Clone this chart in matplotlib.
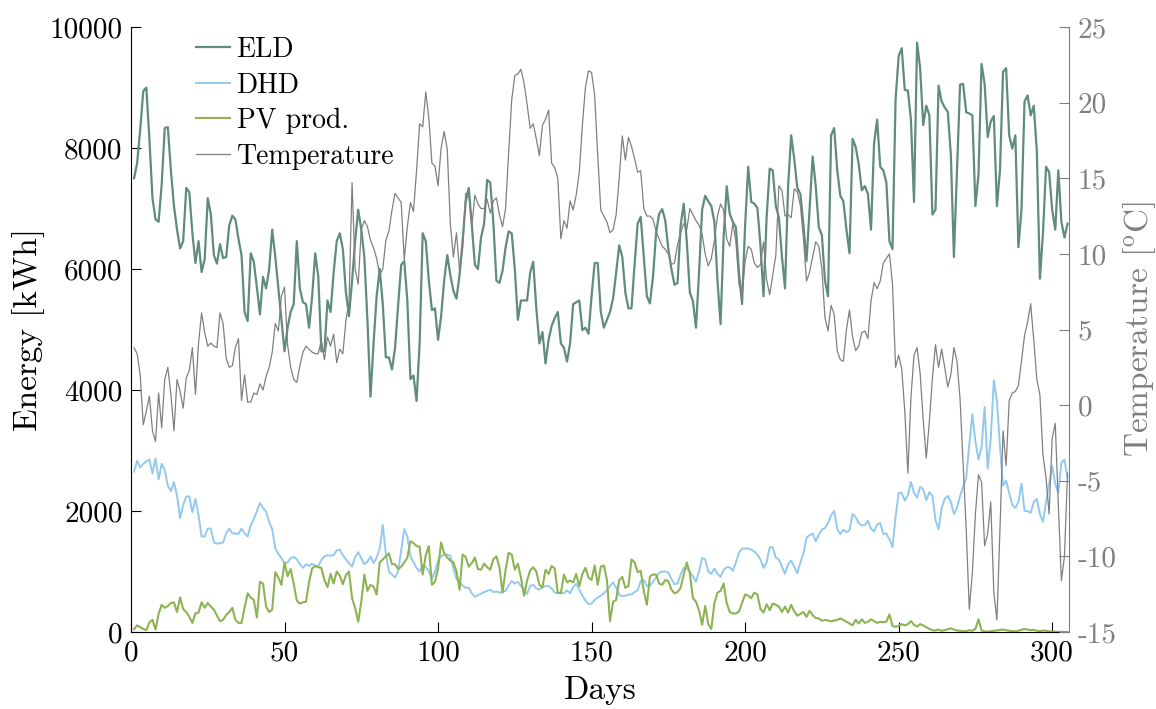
import numpy as np
import matplotlib
matplotlib.use("Agg")
import matplotlib.pyplot as plt

# Daily series, days 1..305
days = list(range(1, 306))

eld = [
    7500, 7750, 8300, 8940, 9000, 8150, 7170, 6820, 6780, 7400,
    8330, 8345, 7630, 7040, 6650, 6340, 6460, 7340, 7270, 6590,
    6100, 6460, 5950, 6160, 7170, 6910, 6230, 6090, 6410, 6180,
    6200, 6720, 6880, 6820, 6500, 6230, 5290, 5140, 6260, 6120,
    5700, 5250, 5870, 5680, 6000, 6650, 6200, 5680, 5160, 4640,
    5030, 5290, 5420, 6460, 5680, 5450, 5420, 5030, 5550, 6260,
    5870, 4640, 4640, 5480, 5290, 5940, 6460, 6590, 6330, 5610,
    5220, 5810, 6460, 6980, 6650, 6200, 5160, 3890, 4770, 5550,
    6000, 5420, 4540, 4540, 4340, 4700, 5400, 6070, 6130, 5480,
    4180, 4240, 3820, 4770, 6590, 6460, 5810, 5320, 5350, 4830,
    5220, 5810, 6230, 5900, 5640, 5510, 5900, 6460, 7110, 7340,
    6720, 6070, 6000, 6520, 6750, 7470, 7430, 6780, 5810, 5770,
    5970, 6360, 6620, 6590, 6000, 5160, 5480, 5480, 5480, 5940,
    6120, 5350, 4770, 4960, 4440, 4830, 5060, 5190, 5290, 4770,
    4700, 4470, 4770, 5420, 5450, 5480, 4990, 5030, 4930, 5550,
    6100, 6100, 5290, 5030, 5160, 5290, 5510, 5940, 6390, 6200,
    5610, 5350, 5350, 6070, 6750, 6860, 6200, 5550, 5430, 5870,
    6590, 6910, 6990, 6800, 6330, 6000, 5740, 5770, 6720, 7080,
    6460, 5610, 5470, 5030, 5940, 6980, 7210, 7120, 7040, 6780,
    5810, 5090, 6520, 7370, 6910, 6780, 6690, 5940, 5420, 6720,
    7690, 7110, 7080, 7010, 6390, 5550, 6850, 7660, 7630, 7040,
    6850, 6200, 5680, 7370, 8210, 7820, 7340, 7240, 6720, 6130,
    6980, 7860, 7370, 6690, 6560, 5810, 5550, 8210, 8330, 7630,
    7210, 7120, 6650, 6260, 8150, 8020, 7730, 7300, 7370, 7240,
    6650, 8080, 8470, 7690, 7630, 7430, 6460, 6330, 8800, 9520,
    9650, 8960, 8950, 8470, 7110, 9740, 9320, 8380, 8700, 8540,
    6900, 6980, 9030, 8770, 8670, 8600, 7890, 6200, 7630, 9050,
    9060, 8590, 8570, 8540, 7040, 7560, 9390, 9060, 8180, 8440,
    8530, 7040, 7630, 9260, 9320, 8210, 7990, 8210, 6360, 6980,
    8770, 8870, 8540, 8700, 7950, 5840, 6590, 7690, 7600, 6980,
    6650, 7630, 6780, 6520, 6750,
]

dhd = [
    2650, 2830, 2720, 2780, 2820, 2850, 2620, 2870, 2520, 2780,
    2680, 2420, 2330, 2480, 2250, 1880, 2100, 2240, 2240, 1980,
    2200, 1930, 1580, 1580, 1710, 1710, 1480, 1460, 1470, 1480,
    1630, 1710, 1630, 1630, 1620, 1710, 1630, 1580, 1760, 1870,
    2000, 2130, 2050, 1990, 1820, 1700, 1380, 1290, 1220, 1130,
    1150, 1220, 1240, 1200, 1120, 1060, 1120, 1090, 1130, 1090,
    1090, 1190, 1250, 1270, 1260, 1270, 1350, 1360, 1270, 1200,
    1140, 1080, 1240, 1320, 1220, 1120, 1160, 1250, 1140, 1230,
    1380, 1770, 1300, 1000, 950, 900, 1000, 1350, 1700, 1580,
    1250, 1150, 1060, 1000, 1100, 1080, 1000, 880, 1000, 1180,
    1250, 1280, 1280, 1260, 1050, 880, 820, 770, 730, 730,
    640, 580, 610, 630, 660, 680, 700, 660, 670, 650,
    670, 680, 770, 840, 800, 830, 760, 700, 630, 760,
    780, 720, 700, 740, 760, 760, 720, 650, 640, 650,
    640, 690, 640, 740, 800, 700, 600, 520, 460, 470,
    530, 570, 600, 640, 690, 760, 820, 730, 620, 590,
    600, 620, 620, 660, 690, 840, 860, 760, 760, 830,
    900, 980, 1000, 1000, 980, 880, 790, 800, 950, 1060,
    1050, 1000, 920, 830, 1000, 1220, 1200, 1000, 960, 1050,
    960, 910, 1030, 1070, 1070, 1010, 1150, 1310, 1380, 1380,
    1380, 1360, 1330, 1280, 1200, 1060, 1150, 1400, 1400, 1230,
    1200, 1080, 960, 1120, 1180, 1080, 970, 1150, 1300, 1560,
    1600, 1627, 1500, 1610, 1690, 1720, 1800, 1930, 2000, 1700,
    1620, 1690, 1650, 1680, 1950, 1900, 1800, 1760, 1770, 1840,
    1710, 1660, 1780, 1800, 1620, 1630, 1530, 1400, 1900, 2300,
    2300, 2170, 2260, 2480, 2300, 2220, 2400, 2360, 2180, 2310,
    2250, 1850, 1700, 2050, 2200, 2250, 2150, 1950, 2050, 2250,
    2400, 2550, 3100, 3600, 3150, 2850, 3050, 3720, 2700, 3200,
    4160, 3820, 3070, 2420, 2500, 2300, 2100, 2050, 2150, 2450,
    2000, 2000, 1970, 2150, 2200, 1950, 1820, 2150, 2450, 2750,
    2450, 2300, 2800, 2850, 2550,
]

pv = [
    46, 110, 80, 50, 30, 160, 200, 40, 300, 450,
    400, 430, 480, 490, 330, 570, 380, 330, 250, 150,
    310, 320, 490, 400, 480, 420, 370, 270, 180, 200,
    280, 330, 400, 200, 150, 150, 400, 640, 570, 530,
    240, 830, 800, 420, 330, 370, 990, 900, 780, 1150,
    920, 1040, 800, 520, 470, 490, 500, 830, 1050, 1090,
    1070, 1060, 860, 740, 960, 800, 1000, 930, 790, 940,
    1000, 560, 400, 170, 500, 950, 680, 780, 750, 620,
    1150, 1200, 1250, 1300, 1120, 1120, 1040, 1080, 1150, 1230,
    1500, 1470, 1420, 1410, 950, 1270, 1420, 780, 830, 1050,
    1480, 1300, 1230, 1180, 1150, 1000, 700, 1280, 1240, 1080,
    1140, 1230, 1040, 1030, 1130, 1070, 1030, 1200, 1250, 1070,
    650, 1030, 1310, 1280, 1030, 1130, 900, 600, 850, 1020,
    1070, 1000, 780, 740, 1030, 960, 1090, 1050, 650, 640,
    950, 820, 850, 820, 960, 760, 960, 1060, 900, 860,
    1100, 780, 1080, 1100, 860, 180, 500, 530, 860, 910,
    730, 760, 1200, 1150, 990, 1010, 680, 450, 920, 950,
    950, 800, 780, 860, 840, 700, 640, 660, 730, 950,
    1150, 970, 560, 500, 360, 120, 430, 130, 50, 480,
    650, 680, 800, 480, 330, 306, 306, 338, 480, 620,
    600, 560, 650, 620, 380, 320, 460, 360, 470, 450,
    420, 330, 420, 320, 450, 340, 270, 300, 330, 250,
    350, 280, 230, 225, 185, 200, 190, 175, 190, 200,
    225, 200, 170, 140, 110, 200, 140, 210, 150, 170,
    210, 180, 150, 170, 160, 170, 290, 100, 85, 100,
    130, 110, 130, 180, 120, 90, 130, 110, 80, 50,
    30, 25, 40, 20, 30, 45, 60, 40, 25, 20,
    15, 10, 30, 20, 50, 210, 25, 10, 5, 15,
    20, 25, 35, 40, 30, 20, 15, 10, 20, 35,
    50, 40, 30, 35, 20, 15, 25, 20, 10, 5,
    5, 0, 5, 0, 0,
]

temperature = [
    3.8, 3.4, 2.0, -1.3, -0.4, 0.6, -1.7, -2.4, 0.8, -1.5,
    1.7, 2.5, 0.7, -1.7, 1.7, 0.9, -0.2, 1.8, 2.3, 3.8,
    0.7, 4.1, 6.1, 4.8, 3.9, 4.1, 3.9, 3.8, 6.1, 5.4,
    3.1, 2.5, 2.6, 3.8, 4.4, 0.3, 2.0, 0.2, 0.2, 0.8,
    0.7, 1.4, 1.0, 1.9, 2.5, 3.5, 5.4, 4.9, 7.2, 7.8,
    4.0, 2.5, 1.7, 1.5, 2.6, 3.5, 3.9, 3.7, 3.5, 3.4,
    3.4, 4.3, 3.0, 4.5, 3.9, 4.7, 2.8, 3.7, 3.4, 5.6,
    6.8, 14.7, 9.0, 8.0, 11.6, 12.2, 11.8, 10.9, 10.4, 9.7,
    8.6, 9.0, 10.9, 11.5, 12.9, 14.0, 13.7, 13.4, 9.6, 11.8,
    13.4, 12.8, 15.5, 18.6, 18.4, 20.7, 19.0, 16.0, 15.8, 14.5,
    17.0, 18.1, 16.9, 12.0, 9.8, 11.4, 8.9, 10.3, 14.0, 14.0,
    11.8, 13.9, 13.3, 13.0, 13.0, 13.6, 12.7, 13.5, 13.7, 12.6,
    11.8, 13.0, 16.7, 20.2, 21.8, 21.9, 22.2, 21.3, 19.9, 18.3,
    18.6, 17.6, 16.5, 18.5, 18.9, 19.5, 16.0, 15.7, 15.0, 11.0,
    12.2, 11.7, 13.5, 12.9, 13.9, 15.4, 18.5, 21.0, 22.1, 22.0,
    20.5, 16.5, 12.9, 12.5, 12.1, 11.4, 11.6, 12.6, 15.0, 17.8,
    16.2, 17.7, 17.1, 16.3, 15.4, 15.5, 13.0, 12.5, 12.5, 12.3,
    11.5, 11.0, 10.5, 10.3, 10.0, 9.3, 9.4, 10.6, 11.4, 12.0,
    11.6, 13.0, 12.6, 12.2, 11.9, 11.3, 10.0, 9.2, 9.7, 10.9,
    12.5, 13.3, 12.9, 11.0, 10.5, 12.0, 10.8, 8.0, 7.3, 9.5,
    10.5, 10.3, 9.4, 9.1, 9.3, 10.8, 8.3, 7.3, 8.6, 9.9,
    14.5, 14.2, 12.5, 12.6, 12.4, 14.3, 14.1, 13.2, 11.0, 8.2,
    8.8, 9.8, 10.8, 10.5, 9.0, 5.8, 4.9, 6.6, 6.0, 3.6,
    3.0, 2.9, 5.0, 6.3, 4.5, 3.6, 3.9, 4.8, 4.9, 4.4,
    6.9, 8.1, 7.7, 8.2, 9.4, 9.7, 10.0, 8.0, 2.5, 3.3,
    2.4, -0.4, -4.5, 0.5, 3.3, 3.8, 2.1, -1.0, -3.5, -1.1,
    1.8, 4.0, 2.5, 3.7, 2.5, 1.2, 2.0, 3.8, 2.9, 0.4,
    -3.9, -8.2, -13.5, -11.1, -7.2, -4.6, -5.1, -9.3, -8.5, -6.4,
    -12.4, -14.2, -8.2, -1.7, -4.0, 0.3, 0.8, 0.9, 1.3, 2.9,
    4.6, 5.5, 6.7, 4.3, 1.7, 0.7, -3.3, -4.8, -7.2, -2.2,
    -1.2, -6.6, -11.6, -10.0, -4.5,
]

energy_ticks = [0, 2000, 4000, 6000, 8000, 10000]
temp_ticks = [-15, -10, -5, 0, 5, 10, 15, 20, 25]
day_ticks = [0, 50, 100, 150, 200, 250, 300]

plt.rcParams["font.family"] = "serif"
plt.rcParams["font.serif"] = ["cmr10"]
plt.rcParams["mathtext.fontset"] = "cm"
plt.rcParams["axes.unicode_minus"] = False
plt.rcParams["axes.formatter.use_mathtext"] = False

c_eld = "#5f8c7b"
c_dhd = "#93c9ef"
c_pv = "#8db352"
c_temp = "#808080"
c_right = "#7f7f7f"

fig = plt.figure(figsize=(11.56, 7.09), dpi=100)
ax = fig.add_axes([0.1133, 0.1086, 0.8115, 0.8533])

l1, = ax.plot(days, eld, color=c_eld, lw=1.6, label="ELD")
l2, = ax.plot(days, dhd, color=c_dhd, lw=1.4, label="DHD")
l3, = ax.plot(days, pv, color=c_pv, lw=1.5, label="PV prod.")

ax.set_xlim(0, 305.5)
ax.set_ylim(0, 10000)
ax.set_xticks(day_ticks)
ax.set_yticks(energy_ticks)
ax.set_xlabel("Days", fontsize=24, labelpad=7)
ax.set_ylabel("Energy [kWh]", fontsize=24, labelpad=3)
ax.tick_params(direction="in", length=7, width=0.8, labelsize=21, pad=6)
ax.spines["top"].set_visible(False)
ax.spines["right"].set_visible(False)

ax2 = ax.twinx()
l4, = ax2.plot(days, temperature, color=c_temp, lw=0.9, label="Temperature")
ax2.set_ylim(-15, 25)
ax2.set_yticks(temp_ticks)
ax2.set_ylabel("Temperature [$^{\\mathrm{o}}$C]", fontsize=24, color=c_right, labelpad=3)
ax2.tick_params(direction="in", length=7, width=0.8, labelsize=21, colors=c_right, pad=6)
for side in ("top", "left", "bottom"):
    ax2.spines[side].set_visible(False)
ax2.spines["right"].set_color(c_right)

leg = ax2.legend(handles=[l1, l2, l3, l4], loc="upper left",
                 bbox_to_anchor=(0.043, 1.025), frameon=False, fontsize=20,
                 handlelength=1.2, handletextpad=0.25, labelspacing=0.33)

fig.savefig("out.png", dpi=100)
